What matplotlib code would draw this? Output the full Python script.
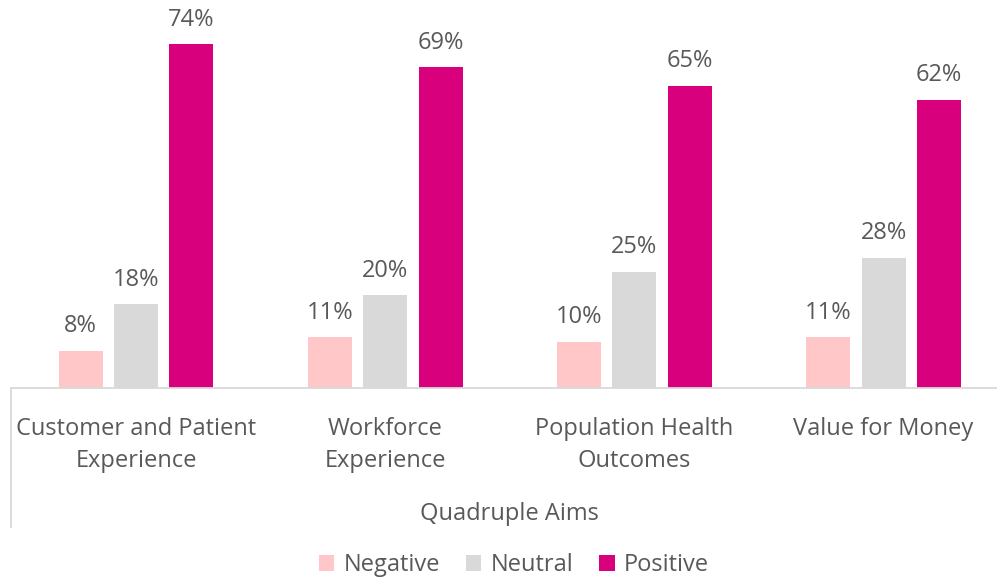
import matplotlib
matplotlib.use("Agg")
import matplotlib.pyplot as plt
from matplotlib.lines import Line2D
from matplotlib.patches import Patch
import numpy as np

categories = ["Customer and Patient\nExperience", "Workforce\nExperience",
              "Population Health\nOutcomes", "Value for Money"]
series_names = ["Negative", "Neutral", "Positive"]
negative = [8, 11, 10, 11]
neutral = [18, 20, 25, 28]
positive = [74, 69, 65, 62]
axis_title = "Quadruple Aims"

colors = ["#FFC7C7", "#D9D9D9", "#D9007E"]
text_color = "#595959"
plt.rcParams['font.family'] = ['Open Sans', 'DejaVu Sans']
FS = 17

W, H = 997, 579
cat_w = 249.2
left = 136 - cat_w / 2
fig = plt.figure(figsize=(W / 100, H / 100), dpi=100)
ax = fig.add_axes([left / W, 1 - 388 / H, 4 * cat_w / W, 388 / H])

x = np.arange(len(categories))
bw = 44 / cat_w
gap = 55.3 / cat_w
for i, (vals, c) in enumerate(zip([negative, neutral, positive], colors)):
    pos = x + (i - 1) * gap
    ax.bar(pos, vals, width=bw, color=c, zorder=2)
    for xi, v in zip(pos, vals):
        ax.annotate(f"{v}%", (xi, v), xytext=(0, 17.5), textcoords="offset points",
                    ha="center", va="center", fontsize=FS, color=text_color)

ax.set_xlim(-0.5, 3.5)
ax.set_ylim(0, 388 / 4.65)
ax.set_yticks([])
ax.set_xticks(x)
ax.set_xticklabels(categories, fontsize=FS, color=text_color, linespacing=1.45)
ax.tick_params(axis="x", length=0, pad=21)
for s in ["top", "right", "left"]:
    ax.spines[s].set_visible(False)
ax.spines["bottom"].set_color("#D9D9D9")
ax.spines["bottom"].set_linewidth(1.3)

fig.add_artist(Line2D([10.5 / W, 10.5 / W], [1 - 388 / H, 1 - 527 / H],
                      color="#D9D9D9", lw=1.3, transform=fig.transFigure))
fig.text(509 / W, 1 - 514 / H, axis_title, ha="center", va="center",
         fontsize=FS, color=text_color)

handles = [Patch(facecolor=c, edgecolor="none") for c in colors]
fig.legend(handles, series_names, loc="center", bbox_to_anchor=(514 / W, 1 - 565 / H),
           ncol=3, frameon=False, fontsize=FS, labelcolor=text_color,
           handlelength=0.65, handleheight=0.65, handletextpad=0.4, columnspacing=1.1)

fig.savefig("out.png", dpi=100)
